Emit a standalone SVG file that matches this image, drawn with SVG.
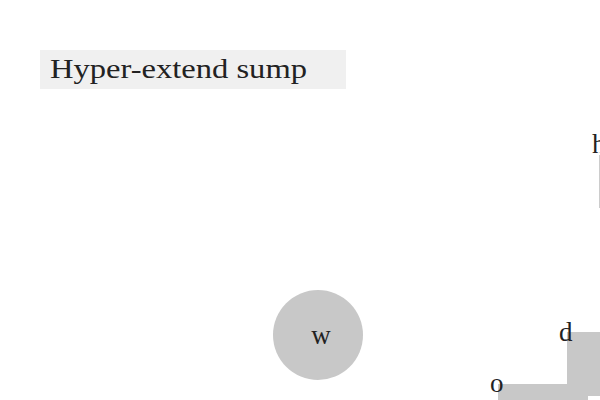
<svg xmlns="http://www.w3.org/2000/svg" width="600" height="400" viewBox="0 0 600 400">
<style>
text{font-family:"Liberation Serif","DejaVu Serif",serif;fill:#222;}
.lbl{font-size:27px;}
.shape{fill:#c8c8c8;}
</style>
<rect width="600" height="400" fill="#fff"/>
<g id="title">
<rect x="40" y="50" width="306" height="39" fill="#f0f0f0"/>
<text x="50" y="78" font-size="28" textLength="257" lengthAdjust="spacingAndGlyphs">Hyper-extend sump</text>
</g>
<g id="connectors">
<line x1="599.5" y1="155" x2="599.5" y2="208" stroke="#cccccc" stroke-width="1"/>
</g>
<g id="node-h">
<text class="lbl" x="592" y="153">h</text>
</g>
<g id="node-w">
<circle class="shape" cx="318" cy="335" r="45"/>
<text class="lbl" x="321" y="344" text-anchor="middle">w</text>
</g>
<g id="node-d">
<rect class="shape" x="567" y="332" width="100" height="64"/>
<text class="lbl" x="559" y="341">d</text>
</g>
<g id="node-o">
<rect class="shape" x="498" y="384" width="90" height="30"/>
<text class="lbl" x="490" y="392">o</text>
</g>
</svg>
